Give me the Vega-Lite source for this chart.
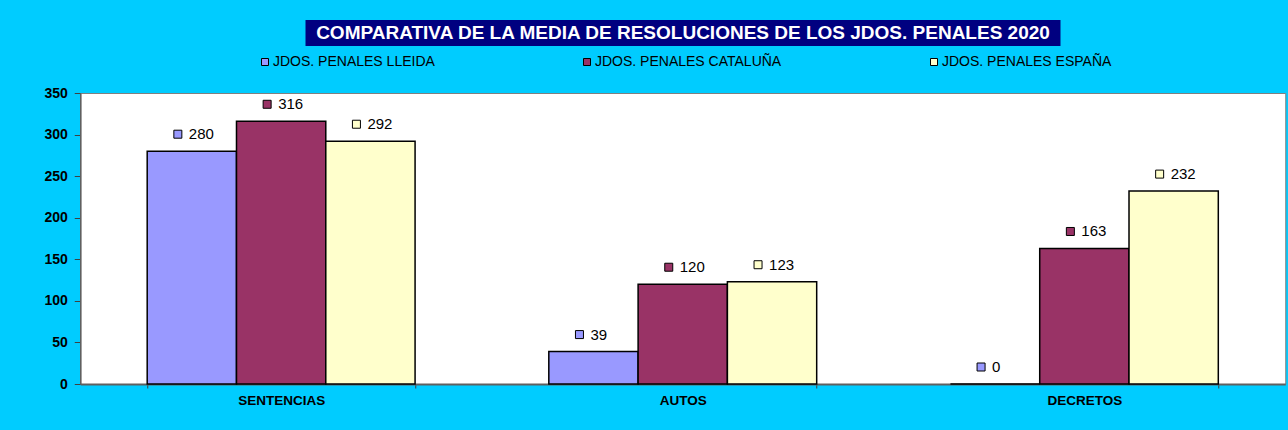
{
  "$schema": "https://vega.github.io/schema/vega-lite/v6.json",
  "background": "#00CCFF",
  "padding": {"left": 43, "top": 20, "right": 4, "bottom": 30},
  "config": {
    "font": "Liberation Sans",
    "view": {"stroke": null},
    "concat": {"spacing": 39}
  },
  "center": true,
  "vconcat": [
    {
      "width": 755,
      "height": 26,
      "view": {"fill": "#000080", "stroke": null},
      "data": {"values": [{"t": "COMPARATIVA DE LA MEDIA DE RESOLUCIONES DE LOS JDOS. PENALES 2020"}]},
      "mark": {"type": "text", "color": "white", "fontWeight": "bold", "fontSize": 19, "font": "Liberation Sans", "baseline": "middle", "align": "center"},
      "encoding": {"text": {"field": "t"}}
    },
    {
      "width": 1205,
      "height": 291,
      "view": {"fill": "white", "stroke": "#808080", "strokeWidth": 1},
      "data": {
        "values": [
          {"categoria": "SENTENCIAS", "serie": "JDOS. PENALES LLEIDA", "valor": 280},
          {"categoria": "SENTENCIAS", "serie": "JDOS. PENALES CATALUÑA", "valor": 316},
          {"categoria": "SENTENCIAS", "serie": "JDOS. PENALES ESPAÑA", "valor": 292},
          {"categoria": "AUTOS", "serie": "JDOS. PENALES LLEIDA", "valor": 39},
          {"categoria": "AUTOS", "serie": "JDOS. PENALES CATALUÑA", "valor": 120},
          {"categoria": "AUTOS", "serie": "JDOS. PENALES ESPAÑA", "valor": 123},
          {"categoria": "DECRETOS", "serie": "JDOS. PENALES LLEIDA", "valor": 0},
          {"categoria": "DECRETOS", "serie": "JDOS. PENALES CATALUÑA", "valor": 163},
          {"categoria": "DECRETOS", "serie": "JDOS. PENALES ESPAÑA", "valor": 232}
        ]
      },
      "encoding": {
        "x": {
          "field": "categoria",
          "type": "nominal",
          "sort": ["SENTENCIAS", "AUTOS", "DECRETOS"],
          "scale": {"paddingInner": 0.333, "paddingOuter": 0.1667},
          "axis": {
            "title": null,
            "labelAngle": 0,
            "labelFont": "Liberation Sans",
            "labelFontWeight": "bold",
            "labelFontSize": 13.5,
            "labelColor": "black",
            "labelPadding": 5,
            "tickBand": "extent",
            "tickSize": 4,
            "tickColor": "#404040",
            "domainColor": "#606060",
            "domainWidth": 2
          }
        },
        "xOffset": {
          "field": "serie",
          "type": "nominal",
          "sort": ["JDOS. PENALES LLEIDA", "JDOS. PENALES CATALUÑA", "JDOS. PENALES ESPAÑA"],
          "scale": {"paddingInner": 0, "paddingOuter": 0}
        },
        "y": {
          "field": "valor",
          "type": "quantitative",
          "scale": {"domain": [0, 350], "nice": false},
          "axis": {
            "title": null,
            "values": [0, 50, 100, 150, 200, 250, 300, 350],
            "grid": false,
            "labelFont": "Liberation Sans",
            "labelFontWeight": "bold",
            "labelFontSize": 14,
            "labelColor": "black",
            "labelPadding": 7,
            "tickSize": 6,
            "tickColor": "#404040",
            "domainColor": "#606060",
            "domainWidth": 1.5
          }
        },
        "color": {
          "field": "serie",
          "type": "nominal",
          "scale": {
            "domain": ["JDOS. PENALES LLEIDA", "JDOS. PENALES CATALUÑA", "JDOS. PENALES ESPAÑA"],
            "range": ["#9999FF", "#993366", "#FFFFCC"]
          },
          "legend": {
            "title": null,
            "orient": "none",
            "legendX": 178,
            "legendY": 35,
            "direction": "horizontal",
            "columnPadding": 145,
            "symbolType": "square",
            "symbolSize": 49,
            "symbolStrokeColor": "black",
            "symbolStrokeWidth": 1,
            "labelFont": "Liberation Sans",
            "labelFontSize": 14,
            "labelColor": "black",
            "labelOffset": 1,
            "labelLimit": 400
          }
        }
      },
      "layer": [
        {
          "mark": {"type": "bar", "stroke": "black", "strokeWidth": 1.5, "opacity": 1}
        },
        {
          "mark": {
            "type": "point",
            "filled": true,
            "opacity": 1,
            "size": 64,
            "stroke": "black",
            "strokeWidth": 1,
            "shape": "M -4.5 -5.25 H -2.5 V -3.25 H -4.5 Z"
          }
        },
        {
          "mark": {"type": "text", "align": "left", "baseline": "middle", "dx": -3, "dy": -17, "fontSize": 15, "font": "Liberation Sans", "color": "black"},
          "encoding": {"text": {"field": "valor", "type": "quantitative"}, "color": {"value": "black"}}
        }
      ]
    }
  ]
}
